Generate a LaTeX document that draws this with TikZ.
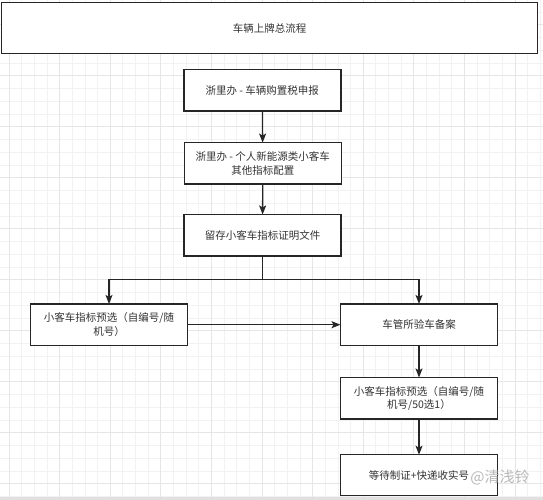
\documentclass[tikz,border=0pt]{standalone}
\usepackage{fontspec}
\setmainfont{Noto Sans CJK SC}
\usetikzlibrary{arrows.meta}
\definecolor{lineC}{HTML}{262626}
\definecolor{textC}{HTML}{333333}
\definecolor{gridMinor}{HTML}{F2F2F2}
\definecolor{gridMajor}{HTML}{E6E6E6}
\definecolor{stripC}{HTML}{E0E0E0}
\tikzset{
  flowbox/.style={draw=lineC, line width=1.4pt, fill=white, text=textC,
    minimum width=157pt, minimum height=41.5pt, inner sep=2pt, outer sep=0pt,
    align=center, font=\fontsize{10.5}{13.5}\selectfont},
  arr/.style={draw=lineC, line width=1.3pt, -{Stealth[length=9pt,width=7pt,inset=2pt]}},
  plainline/.style={draw=lineC, line width=1.3pt},
  gminor/.style={draw=gridMinor, line width=0.8pt},
  gmajor/.style={draw=gridMajor, line width=0.9pt}
}
\begin{document}
\begin{tikzpicture}[x=1pt,y=-1pt]
\useasboundingbox (0,0) rectangle (543,500);
\fill[white] (0,0) rectangle (543,500);
% grid
\foreach \i in {-1,...,42} {
  \pgfmathsetmacro\xx{9+12.65*\i}
  \draw[gminor] (\xx,0) -- (\xx,496.5);
}
\foreach \i in {-2,...,37} {
  \pgfmathsetmacro\yy{24.7+12.75*\i}
  \draw[gminor] (0,\yy) -- (543,\yy);
}
\foreach \i in {0,...,10} {
  \pgfmathsetmacro\xx{9+50.6*\i}
  \draw[gmajor] (\xx,0) -- (\xx,496.5);
}
\foreach \i in {0,...,9} {
  \pgfmathsetmacro\yy{24.7+51*\i}
  \draw[gmajor] (0,\yy) -- (543,\yy);
}
\fill[stripC] (0,496.5) rectangle (543,500);
% nodes
\node[flowbox, minimum width=536pt, minimum height=50.6pt] (title) at (269.7,28) {车辆上牌总流程};
\node[flowbox] (b1) at (262.3,90.3) {浙里办 - 车辆购置税申报};
\node[flowbox] (b2) at (262.8,163.3) {浙里办 - 个人新能源类小客车\\其他指标配置};
\node[flowbox] (b3) at (262.5,235.2) {留存小客车指标证明文件};
\node[flowbox] (bl) at (109,324.7) {小客车指标预选（自编号/随\\机号）};
\node[flowbox] (br) at (419,324.7) {车管所验车备案};
\node[flowbox] (b5) at (419,398.2) {小客车指标预选（自编号/随\\机号/50选1）};
\node[flowbox, minimum height=40.6pt] (b6) at (419,475) {等待制证+快递收实号};
\coordinate (j) at (262.5,279.3);
% connectors
\draw[arr] (b1) -- (b2);
\draw[arr] (b2) -- (b3);
\draw[plainline] (b3.south) -- (j);
\draw[arr] (j) -| (bl.north);
\draw[arr] (j) -| (br.north);
\draw[arr] (bl.east) -- (br.west);
\draw[arr] (br) -- (b5);
\draw[arr] (b5) -- (b6);
% watermark
\node[text=black!28, font=\fontsize{15}{15}\selectfont, inner sep=0pt] (wm) at (500,477) {@清浅铃};
\end{tikzpicture}
\end{document}
